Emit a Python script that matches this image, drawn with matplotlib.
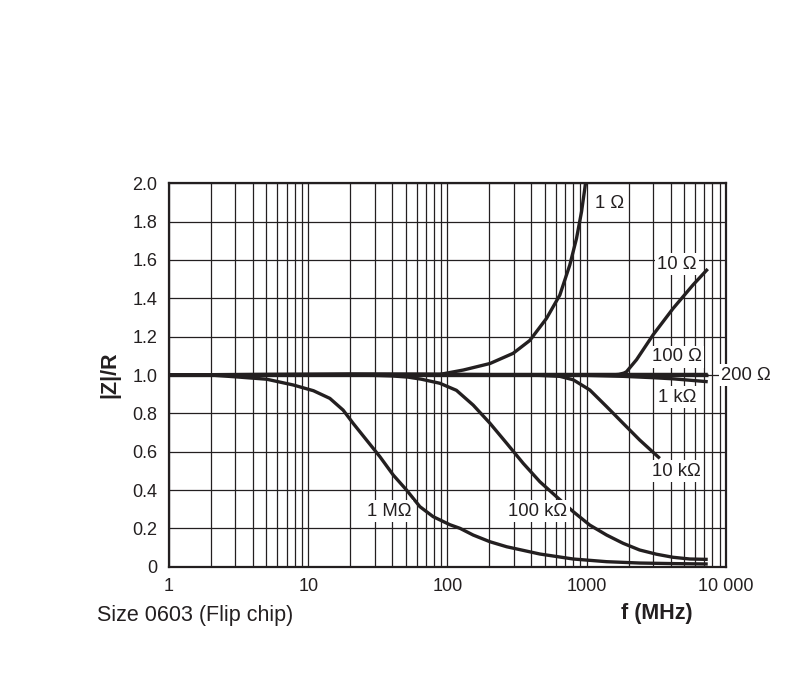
import numpy as np
import matplotlib.pyplot as plt
from matplotlib.ticker import FixedLocator, NullFormatter

plt.rcParams['font.family'] = ['Liberation Sans', 'DejaVu Sans']

# curves: frequency [MHz] and |Z|/R
f_1ohm = [1, 88, 130, 202, 296, 390, 514, 641, 756, 845, 918, 969, 1000]
z_1ohm = [1.0, 1.003, 1.026, 1.06, 1.113, 1.18, 1.295, 1.417, 1.574, 1.713, 1.852, 1.973, 2.05]

f_10ohm = [1, 1500, 1700, 1850, 1930, 2280, 3000, 4170, 5800, 7400]
z_10ohm = [1.0, 1.0, 1.003, 1.01, 1.017, 1.08, 1.21, 1.347, 1.47, 1.553]

f_100ohm = [1, 5, 20, 60, 200, 1000, 7400]
z_100ohm = [1.0, 1.004, 1.006, 1.005, 1.003, 1.003, 1.003]

f_200ohm = [1, 100, 1000, 7400]
z_200ohm = [1.0, 1.0, 1.0, 1.0]

f_1kohm = [1, 100, 1000, 1825, 3000, 4170, 7400]
z_1kohm = [1.0, 1.0, 0.998, 0.993, 0.986, 0.98, 0.965]

f_10kohm = [1, 100, 300, 461, 641, 800, 1052, 1390, 1825, 2400, 3350]
z_10kohm = [1.0, 1.0, 1.0, 0.998, 0.993, 0.975, 0.922, 0.835, 0.748, 0.661, 0.565]

f_100kohm = [1, 10, 30, 40, 52, 65, 88, 116, 153, 202, 266, 350, 461, 607, 800,
             1052, 1390, 1825, 2400, 3170, 4170, 5500, 7400]
z_100kohm = [1.0, 1.0, 0.998, 0.995, 0.989, 0.978, 0.957, 0.92, 0.843, 0.748, 0.644, 0.539,
             0.443, 0.365, 0.287, 0.217, 0.165, 0.122, 0.087, 0.065, 0.049, 0.04, 0.038]

f_1mohm = [1, 1.97, 3.06, 5.03, 7.8, 10.9, 14.3, 17.8, 21, 26.2, 32.7, 40.8, 50.8, 63.4,
           78.9, 104, 123, 153, 202, 266, 461, 800, 1390, 2400, 4170, 7400]
z_1mohm = [1.0, 1.0, 0.99, 0.978, 0.948, 0.918, 0.878, 0.817, 0.748, 0.661, 0.574, 0.478,
           0.40, 0.313, 0.261, 0.219, 0.20, 0.165, 0.13, 0.104, 0.066, 0.04, 0.026, 0.019,
           0.016, 0.014]

curves = [
    (f_1ohm, z_1ohm), (f_10ohm, z_10ohm), (f_100ohm, z_100ohm), (f_200ohm, z_200ohm),
    (f_1kohm, z_1kohm), (f_10kohm, z_10kohm), (f_100kohm, z_100kohm), (f_1mohm, z_1mohm),
]

# curve labels and where they sit (data coords)
labels = ['1 Ω', '10 Ω', '100 Ω', '200 Ω', '1 kΩ', '10 kΩ', '100 kΩ', '1 MΩ']
label_f = [1466, 4436, 4436, 13870, 4436, 4436, 446, 38]
label_z = [1.897, 1.579, 1.094, 1.0, 0.885, 0.499, 0.290, 0.290]

x_ticks = [1, 10, 100, 1000, 10000]
x_ticklabels = ['1', '10', '100', '1000', '10 000']
y_ticks = [0, 0.2, 0.4, 0.6, 0.8, 1.0, 1.2, 1.4, 1.6, 1.8, 2.0]
y_ticklabels = ['0', '0.2', '0.4', '0.6', '0.8', '1.0', '1.2', '1.4', '1.6', '1.8', '2.0']

ink = '#231f20'

fig = plt.figure(figsize=(7.96, 6.78), dpi=100)
ax = fig.add_axes([0.2123, 0.1642, 0.6997, 0.5654])

for f, z in curves:
    ax.plot(f, z, color=ink, lw=2.4, solid_capstyle='butt', solid_joinstyle='round', zorder=3)

ax.set_xscale('log')
ax.set_xlim(1, 10000)
ax.set_ylim(0, 2.0)

minor = [m * 10 ** d for d in range(4) for m in range(2, 10)]
ax.xaxis.set_major_locator(FixedLocator(x_ticks))
ax.xaxis.set_minor_locator(FixedLocator(minor))
ax.xaxis.set_minor_formatter(NullFormatter())
ax.set_xticklabels(x_ticklabels)
ax.set_yticks(y_ticks)
ax.set_yticklabels(y_ticklabels)

ax.grid(True, which='both', axis='x', color=ink, lw=0.9)
ax.grid(True, which='major', axis='y', color=ink, lw=0.9)
ax.tick_params(which='both', length=0, labelsize=13, colors=ink)
ax.tick_params(axis='x', pad=8)
ax.tick_params(axis='y', pad=8.2)
for s in ax.spines.values():
    s.set_linewidth(1.6)
    s.set_color(ink)

for t, fx, zy in zip(labels, label_f, label_z):
    ax.text(fx, zy, t, ha='center', va='center', fontsize=13.3, color=ink,
            zorder=5, clip_on=False,
            bbox=dict(boxstyle='square,pad=0.12', fc='white', ec='none'))

fig.text(110 / 796, 1 - 375 / 678, '|Z|/R', fontsize=15.5, fontweight='bold',
         rotation=90, ha='center', va='center', color=ink)
fig.text(97 / 796, 1 - 615 / 678, 'Size 0603 (Flip chip)', fontsize=15.5,
         ha='left', va='center', color=ink)
fig.text(693 / 796, 1 - 614 / 678, 'f (MHz)', fontsize=15.5, fontweight='bold',
         ha='right', va='center', color=ink)

fig.savefig('out.png', dpi=100)
